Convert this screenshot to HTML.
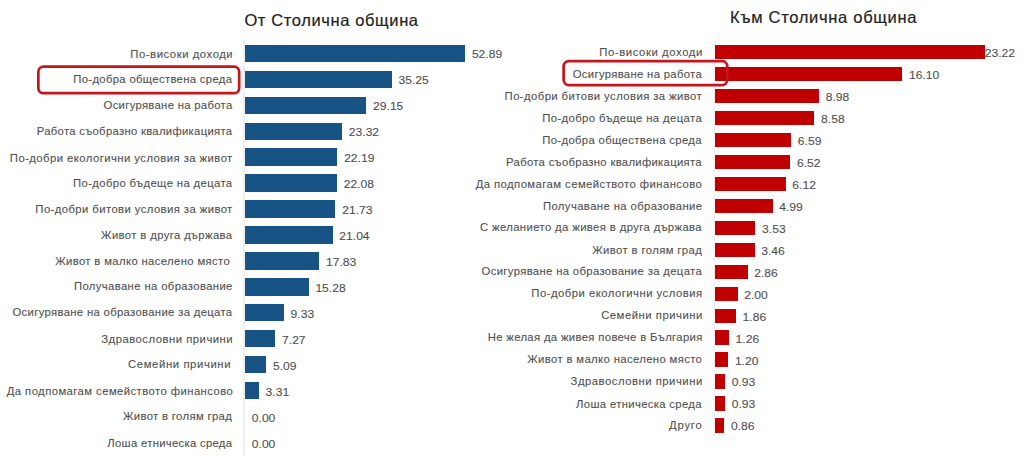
<!DOCTYPE html>
<html><head><meta charset="utf-8"><style>
html,body{margin:0;padding:0;background:#fff;}
body{width:1024px;height:459px;position:relative;overflow:hidden;font-family:"Liberation Sans",sans-serif;}
.t{position:absolute;white-space:pre;color:#222;-webkit-text-stroke:0.2px #222;font-size:16.5px;line-height:20px;transform-origin:0 50%;}
.l{position:absolute;white-space:pre;color:#4f4f4f;-webkit-text-stroke:0.1px #4f4f4f;font-size:11.3px;line-height:14.0px;transform-origin:100% 50%;}
.v{position:absolute;white-space:pre;color:#4f4f4f;-webkit-text-stroke:0.1px #4f4f4f;font-size:11.3px;line-height:14.0px;transform:scaleX(1.07);transform-origin:0 50%;}
.b{position:absolute;}
.bl{background:#185386;}
.br{background:#c00000;}
.ax{position:absolute;}
svg{position:absolute;left:0;top:0;}
</style></head><body>

<div class="t" style="left:244px;top:9.9px;letter-spacing:0.62px;transform:translateX(0.4px)">От Столична община</div>
<div class="t" style="left:729px;top:7.3px;letter-spacing:0.7px;transform:translateX(0.9px)">Към Столична община</div>
<div class="ax" style="left:242.80px;top:40.20px;height:415.40px;width:2.2px;background:#efefef"></div>
<div class="ax" style="left:713.60px;top:41.00px;height:395.30px;width:1.6px;background:#f0f0f0"></div>
<div class="b bl" style="left:245.00px;top:44.60px;width:220.08px;height:17.20px"></div>
<div class="l" style="right:792px;top:46.65px;letter-spacing:0.552px;margin-right:-0.552px;transform:translateX(0.677px)">По-високи доходи</div>
<div class="v" style="left:471px;top:47.05px;transform:translateX(0.875px) scaleX(1.07)">52.89</div>
<div class="b bl" style="left:245.00px;top:70.57px;width:146.68px;height:17.20px"></div>
<div class="l" style="right:792px;top:72.05px;letter-spacing:0.325px;margin-right:-0.325px;transform:translateX(0.005px)">По-добра обществена среда</div>
<div class="v" style="left:398px;top:73.02px;transform:translateX(0.475px) scaleX(1.07)">35.25</div>
<div class="b bl" style="left:245.00px;top:96.54px;width:121.29px;height:17.20px"></div>
<div class="l" style="right:792px;top:97.95px;letter-spacing:0.303px;margin-right:-0.303px;transform:translateX(0.177px)">Осигуряване на работа</div>
<div class="v" style="left:373px;top:98.99px;transform:translateX(0.093px) scaleX(1.07)">29.15</div>
<div class="b bl" style="left:245.00px;top:122.51px;width:97.03px;height:17.20px"></div>
<div class="l" style="right:792px;top:123.91px;letter-spacing:0.294px;margin-right:-0.294px;transform:translateX(0.080px)">Работа съобразно квалификацията</div>
<div class="v" style="left:348px;top:124.96px;transform:translateX(0.835px) scaleX(1.07)">23.32</div>
<div class="b bl" style="left:245.00px;top:148.48px;width:92.33px;height:17.20px"></div>
<div class="l" style="right:792px;top:150.53px;letter-spacing:0.444px;margin-right:-0.444px;transform:translateX(0.319px)">По-добри екологични условия за живот</div>
<div class="v" style="left:344px;top:150.93px;transform:translateX(0.133px) scaleX(1.07)">22.19</div>
<div class="b bl" style="left:245.00px;top:174.45px;width:91.87px;height:17.20px"></div>
<div class="l" style="right:792px;top:175.50px;letter-spacing:0.372px;margin-right:-0.372px;transform:translateX(0.183px)">По-добро бъдеще на децата</div>
<div class="v" style="left:343px;top:176.90px;transform:translateX(0.675px) scaleX(1.07)">22.08</div>
<div class="b bl" style="left:245.00px;top:200.42px;width:90.42px;height:17.20px"></div>
<div class="l" style="right:792px;top:201.85px;letter-spacing:0.415px;margin-right:-0.415px;transform:translateX(0.310px)">По-добри битови условия за живот</div>
<div class="v" style="left:342px;top:202.87px;transform:translateX(0.219px) scaleX(1.07)">21.73</div>
<div class="b bl" style="left:245.00px;top:226.39px;width:87.55px;height:17.20px"></div>
<div class="l" style="right:792px;top:227.89px;letter-spacing:0.376px;margin-right:-0.376px;transform:translateX(0.086px)">Живот в друга държава</div>
<div class="v" style="left:339px;top:228.84px;transform:translateX(0.347px) scaleX(1.07)">21.04</div>
<div class="b bl" style="left:245.00px;top:252.36px;width:74.19px;height:17.20px"></div>
<div class="l" style="right:795px;top:254.21px;letter-spacing:0.361px;margin-right:-0.361px;transform:translateX(0.699px)">Живот в малко населено място</div>
<div class="v" style="left:325px;top:254.81px;transform:translateX(0.991px) scaleX(1.07)">17.83</div>
<div class="b bl" style="left:245.00px;top:278.33px;width:63.58px;height:17.20px"></div>
<div class="l" style="right:792px;top:279.37px;letter-spacing:0.373px;margin-right:-0.373px;transform:translateX(0.426px)">Получаване на образование</div>
<div class="v" style="left:315px;top:280.78px;transform:translateX(0.380px) scaleX(1.07)">15.28</div>
<div class="b bl" style="left:245.00px;top:304.30px;width:38.82px;height:17.20px"></div>
<div class="l" style="right:792px;top:305.41px;letter-spacing:0.328px;margin-right:-0.328px;transform:translateX(0.102px)">Осигуряване на образование за децата</div>
<div class="v" style="left:290px;top:306.75px;transform:translateX(0.622px) scaleX(1.07)">9.33</div>
<div class="b bl" style="left:245.00px;top:330.27px;width:30.25px;height:17.20px"></div>
<div class="l" style="right:792px;top:331.55px;letter-spacing:0.497px;margin-right:-0.497px;transform:translateX(0.639px)">Здравословни причини</div>
<div class="v" style="left:282px;top:332.72px;transform:translateX(0.050px) scaleX(1.07)">7.27</div>
<div class="b bl" style="left:245.00px;top:356.24px;width:21.18px;height:17.20px"></div>
<div class="l" style="right:794px;top:357.10px;letter-spacing:0.600px;margin-right:-0.600px;transform:translateX(0.467px)">Семейни причини</div>
<div class="v" style="left:272px;top:358.69px;transform:translateX(0.979px) scaleX(1.07)">5.09</div>
<div class="b bl" style="left:245.00px;top:382.21px;width:13.77px;height:17.20px"></div>
<div class="l" style="right:792px;top:383.61px;letter-spacing:0.430px;margin-right:-0.430px;transform:translateX(0.778px)">Да подпомагам семейството финансово</div>
<div class="v" style="left:265px;top:384.66px;transform:translateX(0.573px) scaleX(1.07)">3.31</div>
<div class="l" style="right:793px;top:409.33px;letter-spacing:0.352px;margin-right:-0.352px;transform:translateX(0.861px)">Живот в голям град</div>
<div class="v" style="left:251px;top:410.63px;transform:translateX(0.800px) scaleX(1.07)">0.00</div>
<div class="l" style="right:792px;top:435.63px;letter-spacing:0.296px;margin-right:-0.296px;transform:translateX(0.062px)">Лоша етническа среда</div>
<div class="v" style="left:251px;top:436.60px;transform:translateX(0.800px) scaleX(1.07)">0.00</div>
<div class="b br" style="left:714.60px;top:44.95px;width:270.87px;height:14.40px"></div>
<div class="l" style="right:322px;top:44.75px;letter-spacing:0.593px;margin-right:-0.593px;transform:translateX(0.304px)">По-високи доходи</div>
<div class="v" style="left:984px;top:46.00px;transform:translateX(0.770px) scaleX(1.07)">23.22</div>
<div class="b br" style="left:714.60px;top:66.91px;width:187.71px;height:14.40px"></div>
<div class="l" style="right:323px;top:67.26px;letter-spacing:0.323px;margin-right:-0.323px;transform:translateX(0.769px)">Осигуряване на работа</div>
<div class="v" style="left:908px;top:67.96px;transform:translateX(0.908px) scaleX(1.07)">16.10</div>
<div class="b br" style="left:714.60px;top:88.88px;width:104.55px;height:14.40px"></div>
<div class="l" style="right:323px;top:88.81px;letter-spacing:0.420px;margin-right:-0.420px;transform:translateX(0.742px)">По-добри битови условия за живот</div>
<div class="v" style="left:825px;top:89.93px;transform:translateX(0.746px) scaleX(1.07)">8.98</div>
<div class="b br" style="left:714.60px;top:110.84px;width:99.87px;height:14.40px"></div>
<div class="l" style="right:323px;top:110.56px;letter-spacing:0.383px;margin-right:-0.383px;transform:translateX(0.677px)">По-добро бъдеще на децата</div>
<div class="v" style="left:821px;top:111.89px;transform:translateX(0.074px) scaleX(1.07)">8.58</div>
<div class="b br" style="left:714.60px;top:132.81px;width:76.63px;height:14.40px"></div>
<div class="l" style="right:323px;top:133.03px;letter-spacing:0.350px;margin-right:-0.350px;transform:translateX(0.565px)">По-добра обществена среда</div>
<div class="v" style="left:797px;top:133.86px;transform:translateX(0.831px) scaleX(1.07)">6.59</div>
<div class="b br" style="left:714.60px;top:154.77px;width:75.81px;height:14.40px"></div>
<div class="l" style="right:323px;top:154.55px;letter-spacing:0.302px;margin-right:-0.302px;transform:translateX(0.640px)">Работа съобразно квалификацията</div>
<div class="v" style="left:797px;top:155.82px;transform:translateX(0.014px) scaleX(1.07)">6.52</div>
<div class="b br" style="left:714.60px;top:176.73px;width:71.14px;height:14.40px"></div>
<div class="l" style="right:323px;top:176.53px;letter-spacing:0.435px;margin-right:-0.435px;transform:translateX(0.865px)">Да подпомагам семейството финансово</div>
<div class="v" style="left:792px;top:177.78px;transform:translateX(0.342px) scaleX(1.07)">6.12</div>
<div class="b br" style="left:714.60px;top:198.70px;width:57.94px;height:14.40px"></div>
<div class="l" style="right:322px;top:198.74px;letter-spacing:0.400px;margin-right:-0.400px;transform:translateX(0.073px)">Получаване на образование</div>
<div class="v" style="left:779px;top:199.75px;transform:translateX(0.143px) scaleX(1.07)">4.99</div>
<div class="b br" style="left:714.60px;top:220.66px;width:40.89px;height:14.40px"></div>
<div class="l" style="right:323px;top:220.10px;letter-spacing:0.382px;margin-right:-0.382px;transform:translateX(0.667px)">С желанието да живея в друга държава</div>
<div class="v" style="left:762px;top:221.71px;transform:translateX(0.090px) scaleX(1.07)">3.53</div>
<div class="b br" style="left:714.60px;top:242.63px;width:40.07px;height:14.40px"></div>
<div class="l" style="right:323px;top:242.63px;letter-spacing:0.388px;margin-right:-0.388px;transform:translateX(0.778px)">Живот в голям град</div>
<div class="v" style="left:761px;top:243.68px;transform:translateX(0.273px) scaleX(1.07)">3.46</div>
<div class="b br" style="left:714.60px;top:264.59px;width:33.06px;height:14.40px"></div>
<div class="l" style="right:323px;top:264.19px;letter-spacing:0.343px;margin-right:-0.343px;transform:translateX(0.706px)">Осигуряване на образование за децата</div>
<div class="v" style="left:754px;top:265.64px;transform:translateX(0.265px) scaleX(1.07)">2.86</div>
<div class="b br" style="left:714.60px;top:286.55px;width:23.02px;height:14.40px"></div>
<div class="l" style="right:322px;top:286.14px;letter-spacing:0.481px;margin-right:-0.481px;transform:translateX(0.082px)">По-добри екологични условия</div>
<div class="v" style="left:744px;top:287.60px;transform:translateX(0.220px) scaleX(1.07)">2.00</div>
<div class="b br" style="left:714.60px;top:308.52px;width:21.38px;height:14.40px"></div>
<div class="l" style="right:322px;top:308.32px;letter-spacing:0.521px;margin-right:-0.521px;transform:translateX(0.386px)">Семейни причини</div>
<div class="v" style="left:742px;top:309.57px;transform:translateX(0.585px) scaleX(1.07)">1.86</div>
<div class="b br" style="left:714.60px;top:330.48px;width:14.38px;height:14.40px"></div>
<div class="l" style="right:322px;top:329.98px;letter-spacing:0.341px;margin-right:-0.341px;transform:translateX(0.333px)">Не желая да живея повече в България</div>
<div class="v" style="left:735px;top:331.53px;transform:translateX(0.577px) scaleX(1.07)">1.26</div>
<div class="b br" style="left:714.60px;top:352.45px;width:13.68px;height:14.40px"></div>
<div class="l" style="right:323px;top:351.72px;letter-spacing:0.364px;margin-right:-0.364px;transform:translateX(0.861px)">Живот в малко населено място</div>
<div class="v" style="left:734px;top:353.50px;transform:translateX(0.876px) scaleX(1.07)">1.20</div>
<div class="b br" style="left:714.60px;top:374.41px;width:10.52px;height:14.40px"></div>
<div class="l" style="right:322px;top:373.81px;letter-spacing:0.511px;margin-right:-0.511px;transform:translateX(0.223px)">Здравословни причини</div>
<div class="v" style="left:731px;top:375.46px;transform:translateX(0.722px) scaleX(1.07)">0.93</div>
<div class="b br" style="left:714.60px;top:396.37px;width:10.52px;height:14.40px"></div>
<div class="l" style="right:323px;top:396.79px;letter-spacing:0.337px;margin-right:-0.337px;transform:translateX(0.564px)">Лоша етническа среда</div>
<div class="v" style="left:731px;top:397.42px;transform:translateX(0.722px) scaleX(1.07)">0.93</div>
<div class="b br" style="left:714.60px;top:418.34px;width:9.70px;height:14.40px"></div>
<div class="l" style="right:323px;top:418.14px;letter-spacing:0.794px;margin-right:-0.794px;transform:translateX(0.827px)">Друго</div>
<div class="v" style="left:730px;top:419.39px;transform:translateX(0.905px) scaleX(1.07)">0.86</div>
<svg width="1024" height="459" viewBox="0 0 1024 459"><rect x="38.35" y="66.65" width="200.8" height="26.5" rx="5" ry="5" fill="none" stroke="#c4161c" stroke-width="2.7"/><rect x="563.65" y="61.15" width="163.6" height="23.9" rx="5" ry="5" fill="none" stroke="#c4161c" stroke-width="2.7"/></svg>
</body></html>
